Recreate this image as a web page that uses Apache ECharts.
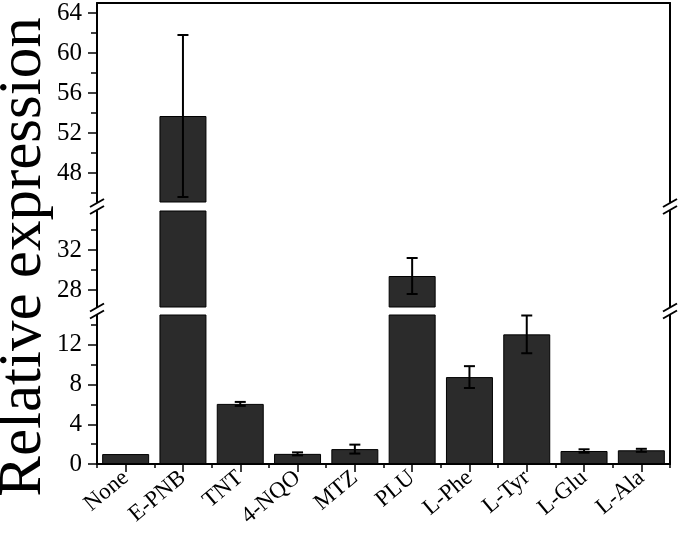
<!DOCTYPE html>
<html><head><meta charset="utf-8">
<script src="https://cdn.jsdelivr.net/npm/echarts@6/dist/echarts.min.js"></script>
<style>html,body{margin:0;padding:0;background:#fff}#c{width:680px;height:534px}</style>
</head><body><div id="c"></div>
<script>
const categories = ['None','E-PNB','TNT','4-NQO','MTZ','PLU','L-Phe','L-Tyr','L-Glu','L-Ala'];
const means  = [1.0, 53.7, 6.05, 1.02, 1.5, 29.4, 8.75, 13.05, 1.31, 1.38];
const errors = [0, 8.1, 0.2, 0.15, 0.45, 1.8, 1.1, 1.9, 0.17, 0.15];
// axis segments (bottom, middle, top)
const segMin = [0, 26.3, 45.1];
const segMax = [15, 35.9, 65];
const majorTicks = [[0,4,8,12],[28,32],[48,52,56,60,64]];
const minorTicks = [[2,6,10,14],[30,34],[46,50,54,58,62]];
const yTitle = 'Relative expression';

const FONT = 'Liberation Serif';
const L = 97, W = 573;
const gridTops = [315, 211, 3];
const gridHeights = [149, 96, 199];

const chart = echarts.init(document.getElementById('c'), null, {renderer:'canvas'});
const grids = [0,1,2].map(g => ({left: L, width: W, top: gridTops[g], height: gridHeights[g]}));
const lineStyle = {color:'#000', width:2};
const xAxes = [
  {gridIndex:0, type:'category', data:categories, position:'bottom',
   axisLine:{show:true, lineStyle}, axisTick:{show:true, alignWithLabel:true, length:8, interval:0, lineStyle:{color:'#000',width:1.5}},
   axisLabel:{interval:0, rotate:40, fontFamily:FONT, fontSize:23, color:'#000', margin:11}},
  {gridIndex:1, type:'category', data:categories, show:false},
  {gridIndex:2, type:'category', data:categories, position:'top',
   axisLine:{show:true, lineStyle}, axisTick:{show:false}, axisLabel:{show:false}},
  {gridIndex:0, type:'category', data:categories, position:'bottom',
   axisLine:{show:false}, axisTick:{show:true, length:4, interval:0, lineStyle:{color:'#000',width:1.5}}, axisLabel:{show:false}}
];
const yAxes = [];
[0,1,2].forEach(g => {
  yAxes.push({gridIndex:g, type:'value', min:segMin[g], max:segMax[g], position:'left',
    axisLine:{show:true, lineStyle}, splitLine:{show:false},
    axisTick:{show:true, length:9, customValues:majorTicks[g], lineStyle:{color:'#000',width:1.5}},
    axisLabel:{customValues:majorTicks[g], fontFamily:FONT, fontSize:25, color:'#000', margin:15}});
  yAxes.push({gridIndex:g, type:'value', min:segMin[g], max:segMax[g], position:'left',
    axisLine:{show:false}, splitLine:{show:false}, axisLabel:{show:false},
    axisTick:{show:true, length:6, customValues:minorTicks[g], lineStyle:{color:'#000',width:1.5}}});
  yAxes.push({gridIndex:g, type:'value', min:segMin[g], max:segMax[g], position:'right',
    axisLine:{show:true, lineStyle}, splitLine:{show:false}, axisLabel:{show:false}, axisTick:{show:false}});
});

const series = [];
[0,1,2].forEach(g => {
  series.push({type:'bar', xAxisIndex:g, yAxisIndex:3*g, data:means, barWidth:'82%', clip:true,
    itemStyle:{color:'#2b2b2b', borderColor:'#000', borderWidth:1}, silent:true});
  const ed = [];
  means.forEach((m,i) => { if (errors[i] > 0 && m >= segMin[g] && m <= segMax[g]) ed.push([i, m - errors[i], m + errors[i]]); });
  series.push({type:'custom', xAxisIndex:g, yAxisIndex:3*g, data:ed, z:10, silent:true,
    renderItem(params, api){
      const x = api.value(0);
      const lo = api.coord([x, api.value(1)]);
      const hi = api.coord([x, api.value(2)]);
      const hw = 5.5;
      const st = {stroke:'#000', lineWidth:2};
      return {type:'group', children:[
        {type:'line', shape:{x1:lo[0], y1:lo[1], x2:hi[0], y2:hi[1]}, style:st},
        {type:'line', shape:{x1:hi[0]-hw, y1:hi[1], x2:hi[0]+hw, y2:hi[1]}, style:st},
        {type:'line', shape:{x1:lo[0]-hw, y1:lo[1], x2:lo[0]+hw, y2:lo[1]}, style:st}
      ]};
    }});
});

// break marks on both vertical axes
const graphics = [];
const breakYs = [ (gridTops[1]+gridHeights[1]+gridTops[0])/2, (gridTops[2]+gridHeights[2]+gridTops[1])/2 ];
breakYs.forEach(yc => {
  [L, L+W].forEach(xc => {
    [-3.5, 3.5].forEach(o => {
      graphics.push({type:'line', shape:{x1:xc-7, y1:yc+o+4, x2:xc+7, y2:yc+o-4}, style:{stroke:'#000', lineWidth:2}, z:100});
    });
  });
});
graphics.push({type:'text', x:24, y:257, rotation:Math.PI/2,
  style:{text:yTitle, font:'61px "Liberation Serif"', fill:'#000', align:'center', verticalAlign:'middle'}});

chart.setOption({
  animation:false,
  backgroundColor:'#fff',
  grid:grids, xAxis:xAxes, yAxis:yAxes, series, graphic:graphics
});
</script></body></html>
